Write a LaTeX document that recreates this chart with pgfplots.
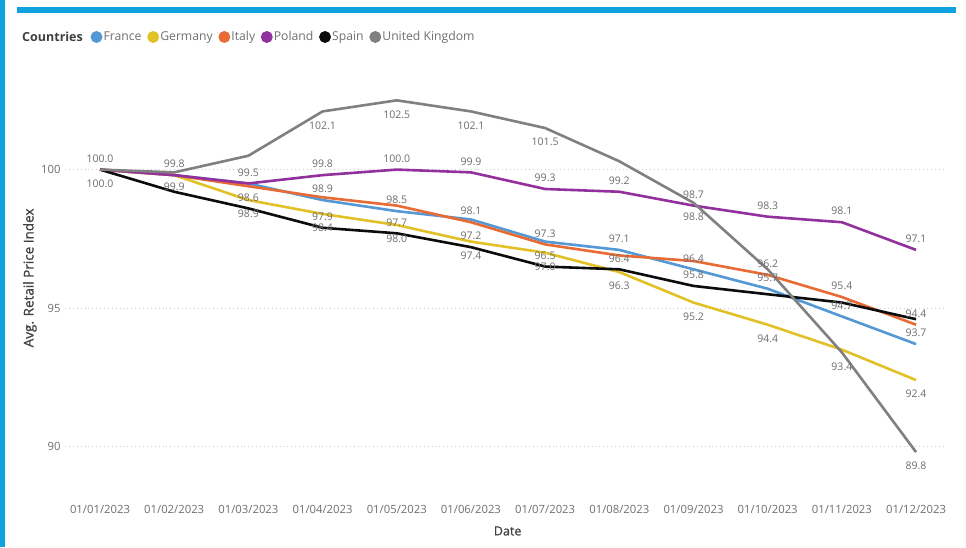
\documentclass[border=0pt]{standalone}
\usepackage{fontspec}
\setmainfont{Open Sans}
\newfontface\semib{Open Sans}[FakeBold=0.9]
\usepackage{pgfplots}
\pgfplotsset{compat=1.18}
\usepackage{pgfplotstable}

\definecolor{frblue}{RGB}{84,152,214}
\definecolor{deyellow}{RGB}{226,193,38}
\definecolor{itorange}{RGB}{232,106,52}
\definecolor{plpurple}{RGB}{146,48,158}
\definecolor{esblack}{RGB}{12,12,12}
\definecolor{ukgray}{RGB}{128,128,128}
\definecolor{framecyan}{RGB}{16,162,222}
\definecolor{labelgray}{RGB}{110,110,110}
\definecolor{tickgray}{RGB}{112,112,112}
\definecolor{titlegray}{RGB}{64,64,64}
\definecolor{gridgray}{RGB}{205,205,205}

% month index, index value, label position (1 above, -1 below, 0 none)
\pgfplotstableread{
m y pos
0 100.0 0
1 99.8 0
2 99.5 0
3 98.9 1
4 98.5 1
5 98.2 0
6 97.4 0
7 97.1 1
8 96.4 1
9 95.7 1
10 94.7 1
11 93.7 1
}\tblFR
\pgfplotstableread{
m y pos
0 100.0 0
1 99.8 0
2 98.9 -1
3 98.4 -1
4 98.0 -1
5 97.4 -1
6 97.0 -1
7 96.3 -1
8 95.2 -1
9 94.4 -1
10 93.5 0
11 92.4 -1
}\tblDE
\pgfplotstableread{
m y pos
0 100.0 0
1 99.8 0
2 99.4 0
3 99.0 0
4 98.7 0
5 98.1 1
6 97.3 1
7 96.9 0
8 96.7 0
9 96.2 1
10 95.4 1
11 94.4 1
}\tblIT
\pgfplotstableread{
m y pos
0 100.0 1
1 99.8 1
2 99.5 1
3 99.8 1
4 100.0 1
5 99.9 1
6 99.3 1
7 99.2 1
8 98.7 1
9 98.3 1
10 98.1 1
11 97.1 1
}\tblPL
\pgfplotstableread{
m y pos
0 100.0 -1
1 99.2 0
2 98.6 1
3 97.9 1
4 97.7 1
5 97.2 1
6 96.5 1
7 96.4 1
8 95.8 1
9 95.5 0
10 95.2 0
11 94.6 0
}\tblES
\pgfplotstableread{
m y pos
0 100.0 0
1 99.9 -1
2 100.5 0
3 102.1 -1
4 102.5 -1
5 102.1 -1
6 101.5 -1
7 100.3 0
8 98.8 -1
9 96.4 0
10 93.4 -1
11 89.8 -1
}\tblUK

\pgfplotsset{
  vallabel/.style={
    draw=none, mark=none, forget plot,
    point meta=y,
    nodes near coords={\pgfmathprintnumber[fixed,fixed zerofill,precision=1]{\pgfplotspointmeta}},
    nodes near coords style={anchor=center, yshift=#1, inner sep=0pt,
      font=\fontsize{10.5}{12}\selectfont, text=labelgray},
  },
}

% labels above (shift up) and below (shift down) for one table
\newcommand{\labelsof}[1]{%
  \addplot[vallabel=11pt] table[x=m, y expr={\thisrow{pos}>0 ? \thisrow{y} : nan}] {#1};
  \addplot[vallabel=-14pt] table[x=m, y expr={\thisrow{pos}<0 ? \thisrow{y} : nan}] {#1};
}

\begin{document}
\begin{tikzpicture}
\fill[white] (0pt,0pt) rectangle (966pt,547pt);
\fill[framecyan] (0pt,0pt) rectangle (5pt,547pt);
\fill[framecyan] (17pt,534.3pt) rectangle (956pt,540.3pt);

\begin{axis}[
  at={(65pt,45pt)}, anchor=south west,
  scale only axis, width=880pt, height=426.86pt,
  xmin=-0.472, xmax=11.39, ymin=88, ymax=103.41,
  axis line style={draw=none},
  major tick length=0pt,
  xtick={0,...,11},
  xticklabels={01/01/2023,01/02/2023,01/03/2023,01/04/2023,01/05/2023,01/06/2023,01/07/2023,01/08/2023,01/09/2023,01/10/2023,01/11/2023,01/12/2023},
  ytick={90,95,100},
  /pgf/number format/assume math mode=true,
  ticklabel style={font=\fontsize{11.3}{13}\selectfont, text=tickgray},
  yticklabel style={xshift=-1pt},
  ymajorgrids,
  grid style={color=gridgray, line width=0.9pt, dash pattern=on 0.9pt off 3pt},
  xlabel={Date},
  xlabel style={at={(axis description cs:0.503,-0.0679)}, anchor=center,
    font=\semib\fontsize{12.5}{14}\selectfont, text=titlegray},
  ylabel={Avg. Retail Price Index},
  ylabel style={at={(axis description cs:-0.0398,0.525)}, anchor=center,
    font=\semib\fontsize{13.5}{15}\selectfont, text=titlegray},
  legend columns=-1,
  legend image code/.code={\fill[#1] (4.6pt,0pt) circle (4.6pt);},
  legend style={at={(axis description cs:0.0289,1.0894)}, anchor=west,
    draw=none, fill=none, inner sep=0pt,
    font=\fontsize{12.2}{14}\selectfont, text=tickgray,
    nodes={inner sep=1.2pt},
    /tikz/every even column/.append style={column sep=4.5pt}},
  every axis plot/.append style={line width=2.6pt, line join=round},
]
\addplot[color=frblue] table[x=m, y=y] {\tblFR};
\addlegendentry{France}
\addplot[color=deyellow] table[x=m, y=y] {\tblDE};
\addlegendentry{Germany}
\addplot[color=itorange] table[x=m, y=y] {\tblIT};
\addlegendentry{Italy}
\addplot[color=plpurple] table[x=m, y=y] {\tblPL};
\addlegendentry{Poland}
\addplot[color=esblack] table[x=m, y=y] {\tblES};
\addlegendentry{Spain}
\addplot[color=ukgray] table[x=m, y=y] {\tblUK};
\addlegendentry{United Kingdom}

\labelsof{\tblFR}
\labelsof{\tblDE}
\labelsof{\tblIT}
\labelsof{\tblPL}
\labelsof{\tblES}
\labelsof{\tblUK}
\end{axis}

\node[anchor=west, inner sep=0pt, font=\fontsize{12.5}{14}\selectfont\bfseries, text=titlegray]
  at (22pt,510pt) {Countries};
\end{tikzpicture}
\end{document}
